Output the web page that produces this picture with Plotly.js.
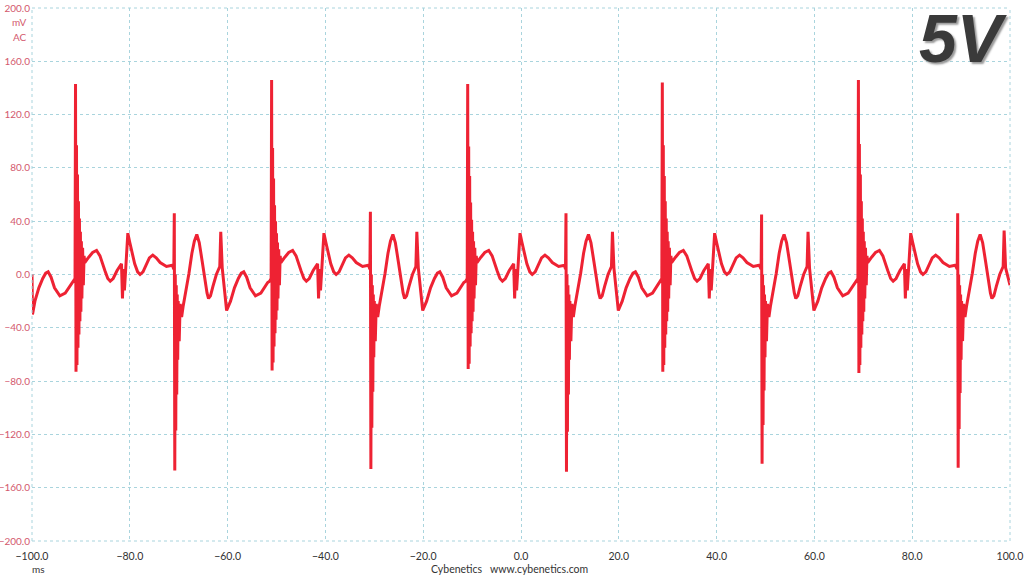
<!DOCTYPE html>
<html>
<head>
<meta charset="utf-8">
<script src="https://cdn.plot.ly/plotly-3.0.1.min.js"></script>
<style>html,body{margin:0;padding:0;background:#fff;}#chart{width:1024px;height:576px;}</style>
</head>
<body>
<div id="chart"></div>
<script>
// Time axis (ms) and ripple values (mV)
const timeMs = [
  -100.0,-99.9,-99.4,-98.6,-97.8,-97.2,-96.7,-96.1,-95.4,-94.3,-93.2,-91.8,
  // cycle 1
  -91.5,-91.2,-91.1,-91.0,-90.9,-90.8,-90.7,-90.6,-90.5,-90.4,-90.3,-90.2,-90.1,-90.0,-89.9,-89.8,-89.65,-89.5,-89.35,-89.2,
  -88.4,-87.6,-86.8,-86.1,-85.1,-84.5,-84.0,-83.4,-82.6,-81.7,-81.5,-81.3,-81.1,-80.8,-80.4,-80.0,-79.0,-78.4,-77.9,-77.3,-76.6,-76.0,-75.3,-74.6,-73.8,-72.5,-71.3,
  -71.0,-70.9,-70.8,-70.7,-70.6,-70.5,-70.4,-70.3,-70.2,-70.1,-69.9,-69.7,-69.4,-69.1,-68.5,-67.9,-67.3,-66.8,-66.3,-65.8,
  -65.2,-64.6,-64.2,-63.9,-63.5,-63.0,-62.3,-61.6,-61.4,-61.1,-60.2,-59.4,-58.6,-57.8,-57.2,-56.7,-56.1,-55.4,-54.3,-53.2,-51.8,
  // cycle 2
  -51.4,-51.1,-51.0,-50.9,-50.8,-50.7,-50.6,-50.5,-50.4,-50.3,-50.2,-50.1,-50.0,-49.9,-49.8,-49.7,-49.55,-49.4,-49.25,-49.1,
  -48.3,-47.5,-46.7,-46.0,-45.0,-44.4,-43.9,-43.3,-42.5,-41.6,-41.4,-41.2,-41.0,-40.7,-40.3,-39.9,-38.9,-38.3,-37.8,-37.2,-36.5,-35.9,-35.2,-34.5,-33.7,-32.4,-31.2,
  -30.9,-30.8,-30.7,-30.6,-30.5,-30.4,-30.3,-30.2,-30.1,-30.0,-29.8,-29.6,-29.3,-29.0,-28.4,-27.8,-27.2,-26.7,-26.2,-25.7,
  -25.1,-24.5,-24.1,-23.8,-23.4,-22.9,-22.2,-21.5,-21.3,-21.0,-20.1,-19.3,-18.5,-17.7,-17.1,-16.6,-16.0,-15.3,-14.2,-13.1,-11.7,
  // cycle 3
  -11.3,-11.0,-10.9,-10.8,-10.7,-10.6,-10.5,-10.4,-10.3,-10.2,-10.1,-10.0,-9.9,-9.8,-9.7,-9.6,-9.45,-9.3,-9.15,-9.0,
  -8.2,-7.4,-6.6,-5.9,-4.9,-4.3,-3.8,-3.2,-2.4,-1.5,-1.3,-1.1,-0.9,-0.6,-0.2,0.2,1.2,1.8,2.3,2.9,3.6,4.2,4.9,5.6,6.4,7.7,8.9,
  9.1,9.2,9.3,9.4,9.5,9.6,9.7,9.8,9.9,10.0,10.2,10.4,10.7,11.0,11.6,12.2,12.8,13.3,13.8,14.3,
  14.9,15.5,15.9,16.2,16.6,17.1,17.8,18.5,18.7,19.0,19.9,20.7,21.5,22.3,22.9,23.4,24.0,24.7,25.8,26.9,28.3,
  // cycle 4
  28.5,28.8,28.9,29.0,29.1,29.2,29.3,29.4,29.5,29.6,29.7,29.8,29.9,30.0,30.1,30.2,30.35,30.5,30.65,30.8,
  31.6,32.4,33.2,33.9,34.9,35.5,36.0,36.6,37.4,38.3,38.5,38.7,38.9,39.2,39.6,40.0,41.0,41.6,42.1,42.7,43.4,44.0,44.7,45.4,46.2,47.5,48.7,
  49.1,49.2,49.3,49.4,49.5,49.6,49.7,49.8,49.9,50.0,50.2,50.4,50.7,51.0,51.6,52.2,52.8,53.3,53.8,54.3,
  54.9,55.5,55.9,56.2,56.6,57.1,57.8,58.5,58.7,59.0,59.9,60.7,61.5,62.3,62.9,63.4,64.0,64.7,65.8,66.9,68.3,
  // cycle 5
  68.6,68.9,69.0,69.1,69.2,69.3,69.4,69.5,69.6,69.7,69.8,69.9,70.0,70.1,70.2,70.3,70.45,70.6,70.75,70.9,
  71.7,72.5,73.3,74.0,75.0,75.6,76.1,76.7,77.5,78.4,78.6,78.8,79.0,79.3,79.7,80.1,81.1,81.7,82.2,82.8,83.5,84.1,84.8,85.5,86.3,87.6,88.8,
  89.2,89.3,89.4,89.5,89.6,89.7,89.8,89.9,90.0,90.1,90.3,90.5,90.8,91.1,91.7,92.3,92.9,93.4,93.9,94.4,
  95.0,95.6,96.0,96.3,96.7,97.2,97.9,98.6,98.8,99.1,100.0
];

const rippleMv = [
  0,-30,-20,-10,-3,1,2,-2,-10,-16,-14,-6,
  // cycle 1
  -5,-3,143,-73,97,-68,75,-55,55,-45,42,-35,32,-28,25,-18,20,-8,14,9,
  13,16.5,18,14,3,-3,-5,-3,3,8,-18,4,-12,6,31,24,8,2,0,2,8,12.5,14.5,12.5,9,6,7,
  4,46,-147,0,-117,-8,-90,-15,-64,-20,-50,-22,-32,-24,-12,1,16,25,30,24,
  10,-5,-14,-18,-16,-9,0,6,32,5,-27,-20,-10,-3,1,2,-2,-10,-16,-14,-6,
  // cycle 2
  -5,-3,146,-72,95,-66,72,-54,52,-44,40,-34,31,-27,24,-18,19,-8,14,9,
  13,16.5,18,14,3,-3,-5,-3,3,8,-18,4,-12,6,31,24,8,2,0,2,8,12.5,14.5,12.5,9,6,7,
  4,47,-146,0,-115,-8,-88,-15,-62,-20,-50,-22,-32,-24,-12,1,16,25,30,24,
  10,-5,-14,-18,-16,-9,0,6,32,5,-27,-20,-10,-3,1,2,-2,-10,-16,-14,-6,
  // cycle 3
  -5,-3,143,-71,96,-67,74,-54,54,-44,41,-35,32,-28,25,-18,20,-8,14,9,
  13,16.5,18,14,3,-3,-5,-3,3,8,-18,4,-12,6,31,24,8,2,0,2,8,12.5,14.5,12.5,9,6,7,
  4,46,-148,0,-118,-8,-90,-15,-64,-20,-50,-22,-32,-24,-12,1,16,25,30,24,
  10,-5,-14,-18,-16,-9,0,6,32,5,-27,-20,-10,-3,1,2,-2,-10,-16,-14,-6,
  // cycle 4
  -5,-3,144,-73,97,-68,74,-55,55,-45,42,-35,32,-28,25,-18,20,-8,14,9,
  13,16.5,18,14,3,-3,-5,-3,3,8,-18,4,-12,6,31,24,8,2,0,2,8,12.5,14.5,12.5,9,6,7,
  4,45,-142,0,-113,-8,-87,-15,-62,-20,-50,-22,-32,-24,-12,1,16,25,30,24,
  10,-5,-14,-18,-16,-9,0,6,32,5,-27,-20,-10,-3,1,2,-2,-10,-16,-14,-6,
  // cycle 5
  -5,-3,146,-74,98,-68,75,-55,55,-45,42,-35,32,-28,25,-18,20,-8,14,9,
  13,16.5,18,14,3,-3,-5,-3,3,8,-18,4,-12,6,31,24,8,2,0,2,8,12.5,14.5,12.5,9,6,7,
  4,46,-145,0,-116,-8,-89,-15,-64,-20,-50,-22,-32,-24,-12,1,16,25,30,24,
  10,-5,-14,-18,-16,-9,0,6,33,5,-8
];

const xTickVals = [-100,-80,-60,-40,-20,0,20,40,60,80,100];
const yTickVals = [-200,-160,-120,-80,-40,0,40,80,120,160,200];

const trace = {
  x: timeMs, y: rippleMv, type: 'scatter', mode: 'lines',
  line: {color: '#ee2233', width: 3},
  hoverinfo: 'skip'
};

const gridColor = '#a9d4dd';
const tickFamily = 'Lato, Open Sans, sans-serif';
const layout = {
  width: 1024, height: 576,
  margin: {l: 32, r: 14, t: 8, b: 35},
  paper_bgcolor: '#ffffff', plot_bgcolor: '#ffffff',
  showlegend: false, hovermode: false,
  xaxis: {
    range: [-100, 100], tickvals: xTickVals, tickformat: '.1f',
    showgrid: true, gridcolor: gridColor, griddash: 'dot', gridwidth: 1,
    zeroline: false, showline: false, ticks: '', ticklabelstandoff: 7,
    tickfont: {family: tickFamily, size: 10.5, color: '#333333'}
  },
  yaxis: {
    range: [-200, 200], tickvals: yTickVals, tickformat: '.1f',
    showgrid: true, gridcolor: gridColor, griddash: 'dot', gridwidth: 1,
    zeroline: false, showline: false, ticks: '', ticklabelstandoff: 1,
    tickfont: {family: tickFamily, size: 10, color: '#d3596d'}
  },
  shapes: [
    {type: 'line', xref: 'paper', yref: 'paper', x0: 0, x1: 1, y0: 1, y1: 1, line: {color: gridColor, width: 1, dash: 'dot'}},
    {type: 'line', xref: 'paper', yref: 'paper', x0: 0, x1: 1, y0: 0, y1: 0, line: {color: gridColor, width: 1, dash: 'dot'}},
    {type: 'line', xref: 'paper', yref: 'paper', x0: 0, x1: 0, y0: 0, y1: 1, line: {color: gridColor, width: 1, dash: 'dot'}},
    {type: 'line', xref: 'paper', yref: 'paper', x0: 1, x1: 1, y0: 0, y1: 1, line: {color: gridColor, width: 1, dash: 'dot'}}
  ],
  annotations: [
    {text: 'mV', xref: 'paper', yref: 'paper', x: 0, y: 1, xanchor: 'right', yanchor: 'middle', xshift: -3, yshift: -14, showarrow: false,
     font: {family: tickFamily, size: 10, color: '#d3596d'}},
    {text: 'AC', xref: 'paper', yref: 'paper', x: 0, y: 1, xanchor: 'right', yanchor: 'middle', xshift: -3, yshift: -29, showarrow: false,
     font: {family: tickFamily, size: 10, color: '#d3596d'}},
    {text: 'ms', xref: 'paper', yref: 'paper', x: 0, y: 0, xanchor: 'center', yanchor: 'middle', xshift: 6, yshift: -28, showarrow: false,
     font: {family: tickFamily, size: 10, color: '#333333'}},
    {text: 'Cybenetics   www.cybenetics.com', xref: 'paper', yref: 'paper', x: 0.488, y: 0, xanchor: 'center', yanchor: 'middle', yshift: -28, showarrow: false,
     font: {family: tickFamily, size: 10.5, color: '#333333'}},
    {text: '5V', xref: 'paper', yref: 'paper', x: 1, y: 1, xanchor: 'right', yanchor: 'top', xshift: 0, yshift: 10, showarrow: false,
     font: {family: 'Liberation Sans, Arial, sans-serif', size: 68, color: '#3a3a3a', weight: 'bold', style: 'italic', shadow: '2px 2px 2px #999'}}
  ]
};

Plotly.newPlot('chart', [trace], layout, {staticPlot: true, displayModeBar: false});
</script>
</body>
</html>
